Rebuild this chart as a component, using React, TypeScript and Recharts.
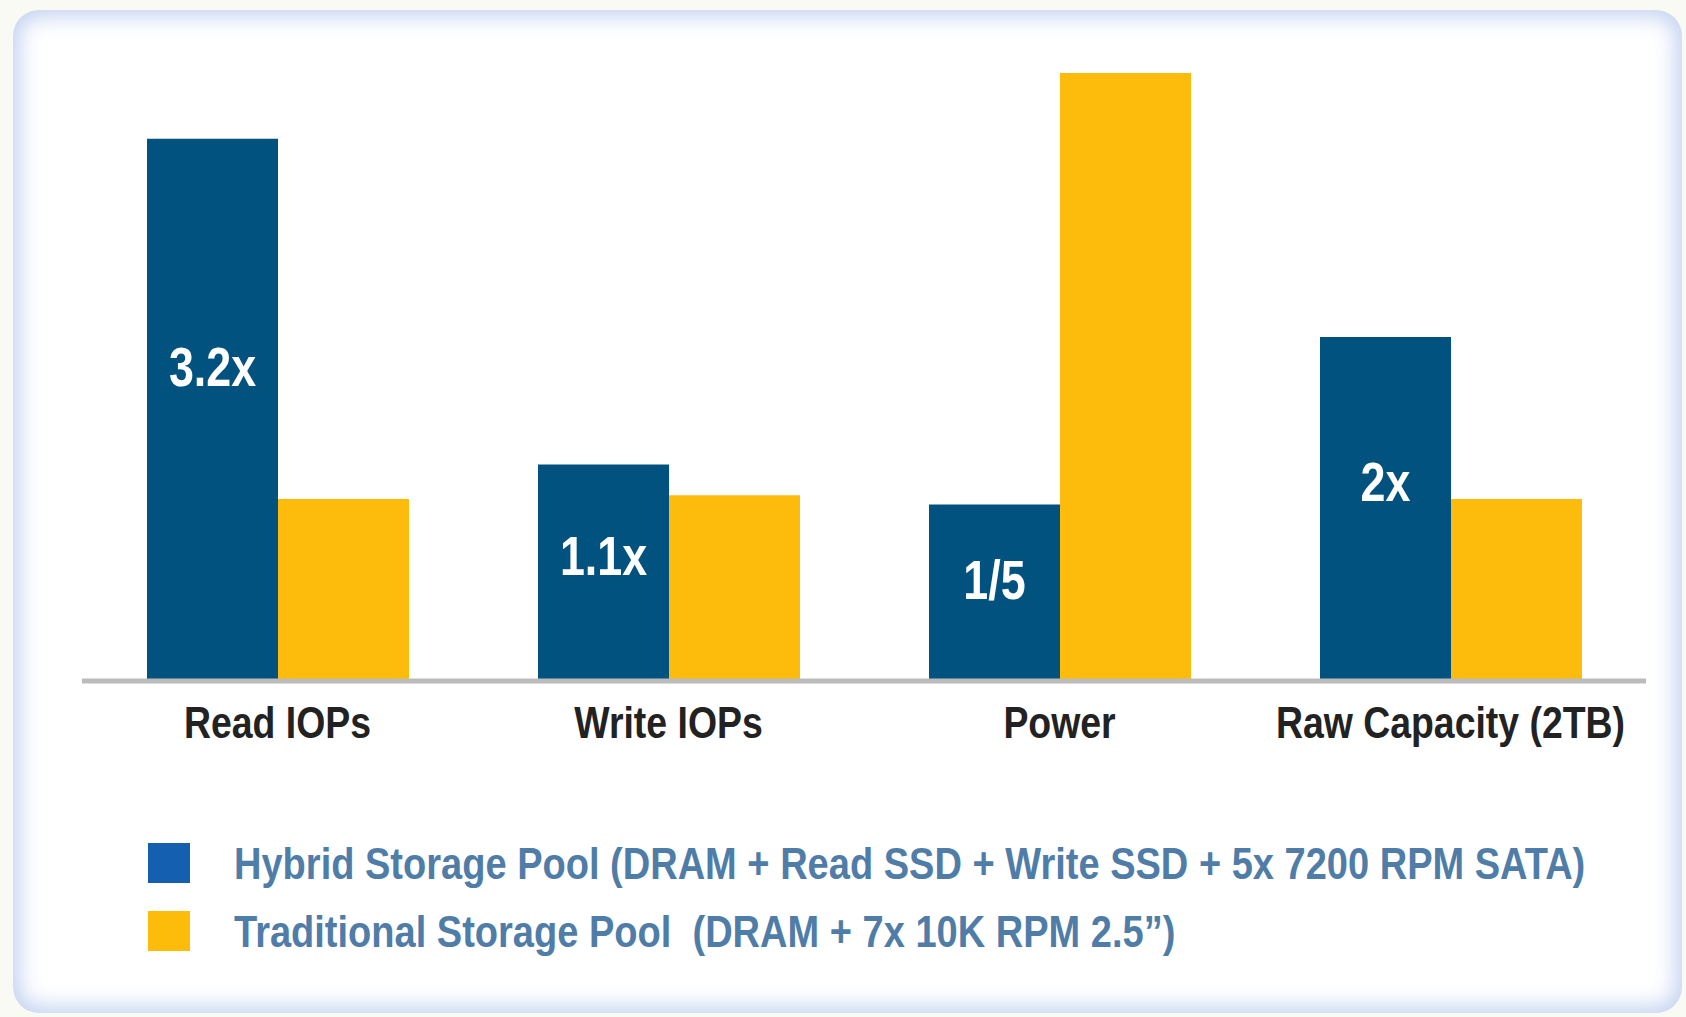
import { BarChart, Bar, XAxis, YAxis, LabelList } from 'recharts';

const categories = ['Read IOPs', 'Write IOPs', 'Power', 'Raw Capacity (2TB)'];
const hybridValues = [2.98, 1.19, 0.97, 1.89];
const traditionalValues = [1.0, 1.02, 3.34, 1.0];
const hybridLabels = ['3.2x', '1.1x', '1/5', '2x'];
const seriesNames = [
  'Hybrid Storage Pool (DRAM + Read SSD + Write SSD + 5x 7200 RPM SATA)',
  'Traditional Storage Pool  (DRAM + 7x 10K RPM 2.5\u201d)',
];

const data = categories.map((name, i) => ({
  name,
  hybrid: hybridValues[i],
  traditional: traditionalValues[i],
  label: hybridLabels[i],
}));

// Arial-metric font squeezed horizontally to stand in for Arial Narrow
const FONT = "'Liberation Sans', Arial, sans-serif";
const BLUE = '#02527f';
const YELLOW = '#fdbc0b';

const AxisTick = (props: any) => {
  const { x, y, payload } = props;
  return (
    <text
      transform={`translate(${x},${y + 57}) scale(0.85,1)`}
      textAnchor="middle"
      fill="#222"
      fontSize={44}
      fontWeight="bold"
      fontFamily={FONT}
    >
      {payload.value}
    </text>
  );
};

const BarLabel = (props: any) => {
  const { x, y, width, height, value } = props;
  const cx = x + width / 2;
  const cy = y + height * 0.42 + 20;
  return (
    <text
      transform={`translate(${cx},${cy}) scale(0.8,1)`}
      textAnchor="middle"
      fill="#fff"
      fontSize={56}
      fontWeight="bold"
      fontFamily={FONT}
    >
      {value}
    </text>
  );
};

export default function App() {
  return (
    <div style={{ position: 'absolute', left: 0, top: 0, width: 1686, height: 1017, background: '#fafaf4', overflow: 'hidden' }}>
      <div
        style={{
          position: 'absolute',
          left: 13,
          top: 10,
          width: 1669,
          height: 1003,
          borderRadius: 26,
          background: '#fff',
          boxShadow: 'inset 0 0 22px 6px rgba(186, 204, 238, 0.9)',
        }}
      />
      <div style={{ position: 'absolute', left: 0, top: 0 }}>
        <BarChart
          width={1686}
          height={800}
          data={data}
          margin={{ top: 44, right: 40, bottom: 0, left: 82 }}
          barGap={0}
          barSize={131}
        >
          <XAxis
            dataKey="name"
            axisLine={{ stroke: '#bbbbbb', strokeWidth: 5 }}
            tickLine={false}
            tickSize={0}
            tickMargin={0}
            height={119}
            interval={0}
            tick={<AxisTick />}
          />
          <YAxis hide domain={[0, 3.5]} />
          <Bar dataKey="hybrid" fill={BLUE} isAnimationActive={false}>
            <LabelList dataKey="label" content={<BarLabel />} />
          </Bar>
          <Bar dataKey="traditional" fill={YELLOW} isAnimationActive={false} />
        </BarChart>
      </div>
      <div style={{ position: 'absolute', left: 148, top: 829, fontFamily: FONT, fontWeight: 'bold', fontSize: 45, color: '#4f7da8' }}>
        {seriesNames.map((s, i) => (
          <div key={s} style={{ display: 'flex', alignItems: 'center', height: 68 }}>
            <div style={{ width: 42, height: 40, background: i === 0 ? '#155fb0' : '#fdbb0a', marginRight: 44, flexShrink: 0 }} />
            <span style={{ whiteSpace: 'pre', lineHeight: 1, display: 'inline-block', transform: 'scaleX(0.845)', transformOrigin: 'left center' }}>
              {s}
            </span>
          </div>
        ))}
      </div>
    </div>
  );
}
